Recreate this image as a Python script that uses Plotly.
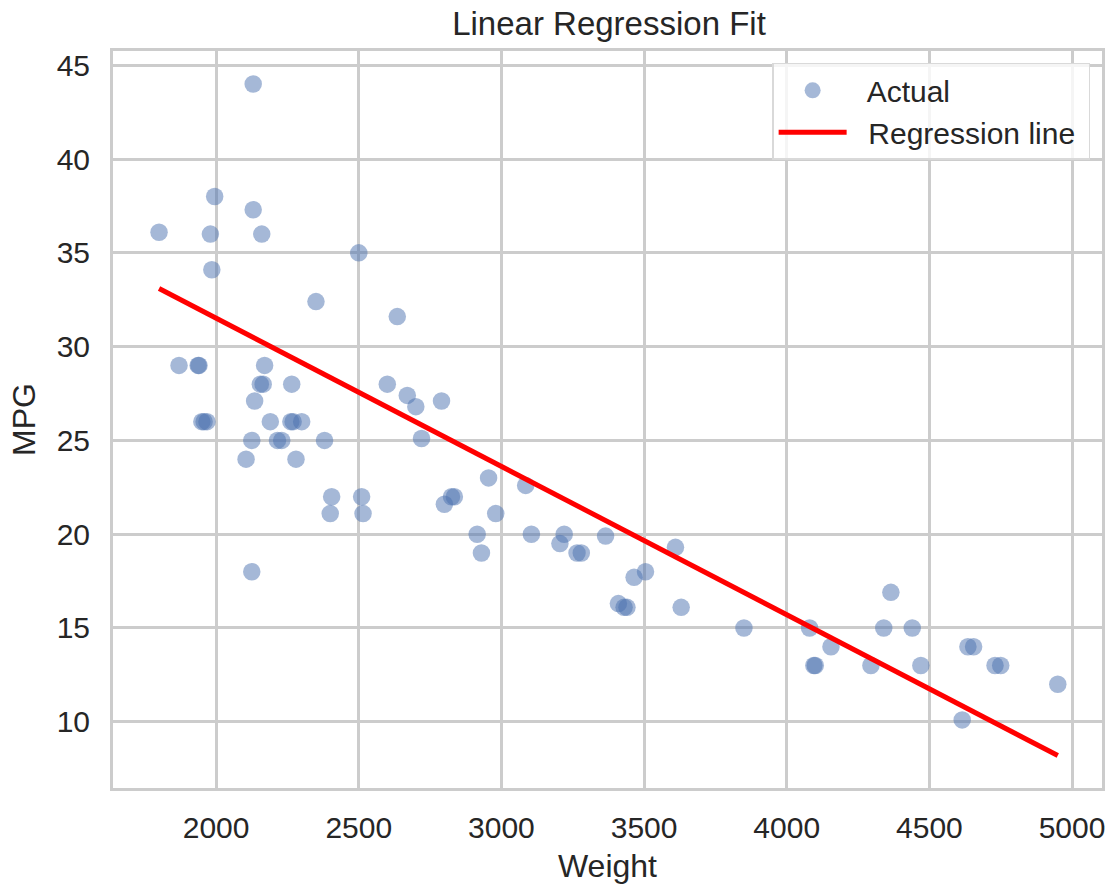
import plotly.graph_objects as go

# Data
weight = [2130, 1995, 2130, 1800, 1980, 2160, 2500, 1985, 2350, 2635,
          1870, 1937, 1940, 2170, 2155, 2165, 2265, 2135, 1950, 1958,
          1968, 2190, 2262, 2270, 2300, 2125, 2215, 2230, 2380, 2105,
          2280, 2405, 2510, 2400, 2515, 2825, 2835, 2800, 2600, 2670,
          2700, 2790, 2720, 2955, 2980, 2915, 2930, 2125, 3085, 3105,
          3220, 3205, 3265, 3280, 3365, 3610, 3505, 3465, 3410, 3430,
          3440, 3630, 3850, 4080, 4155, 4095, 4100, 4295, 4365, 4340,
          4440, 4470, 4635, 4655, 4730, 4750, 4950, 4615]
mpg = [44.0, 38.0, 37.3, 36.1, 36.0, 36.0, 35.0, 34.1, 32.4, 31.6,
       29.0, 29.0, 29.0, 29.0, 28.0, 28.0, 28.0, 27.1, 26.0, 26.0,
       26.0, 26.0, 26.0, 26.0, 26.0, 25.0, 25.0, 25.0, 25.0, 24.0,
       24.0, 22.0, 22.0, 21.1, 21.1, 22.0, 22.0, 21.6, 28.0, 27.4,
       26.8, 27.1, 25.1, 23.0, 21.1, 20.0, 19.0, 18.0, 22.6, 20.0,
       20.0, 19.5, 19.0, 19.0, 19.9, 19.3, 18.0, 17.7, 16.3, 16.1,
       16.1, 16.1, 15.0, 15.0, 14.0, 13.0, 13.0, 13.0, 16.9, 15.0,
       15.0, 13.0, 14.0, 14.0, 13.0, 13.0, 12.0, 10.1]

reg_x = [1800, 4950]
reg_y = [33.1, 8.2]

x_ticks = [2000, 2500, 3000, 3500, 4000, 4500, 5000]
y_ticks = [10, 15, 20, 25, 30, 35, 40, 45]

FONT = "Liberation Sans, Arial, sans-serif"
TEXT = "#262626"
GRID = "#cccccc"

fig = go.Figure()
fig.add_trace(go.Scatter(
    x=weight, y=mpg, mode="markers", name="  Actual",
    marker=dict(color="#4C72B0", size=17.5, opacity=0.5, line=dict(width=0)),
))
fig.add_trace(go.Scatter(
    x=reg_x, y=reg_y, mode="lines", name="  Regression line ",
    line=dict(color="#ff0000", width=5),
))

def axis_common(ticklen):
    return dict(
        showgrid=True, gridcolor=GRID, gridwidth=2.5,
        showline=True, linecolor=GRID, linewidth=3, mirror=True,
        zeroline=False,
        ticks="outside", ticklen=ticklen, tickcolor="rgba(0,0,0,0)",
        tickfont=dict(family=FONT, size=30, color=TEXT),
    )

fig.update_layout(
    width=1114, height=888,
    margin=dict(l=113, r=9, t=51, b=100),
    paper_bgcolor="white", plot_bgcolor="white",
    font=dict(family=FONT, color=TEXT),
    title=dict(text="Linear Regression Fit", x=(113 + 1105) / 2 / 1114,
               xanchor="center", y=1 - 23 / 888, yanchor="middle",
               yref="container", font=dict(family=FONT, size=33, color=TEXT)),
    xaxis=dict(range=[1638.6, 5105], tickvals=x_ticks,
               title=dict(text="Weight", font=dict(family=FONT, size=32, color=TEXT), standoff=12),
               **axis_common(11)),
    yaxis=dict(range=[6.47, 45.76], tickvals=y_ticks,
               title=dict(text="MPG", font=dict(family=FONT, size=32, color=TEXT), standoff=12),
               **axis_common(14)),
    legend=dict(x=0.988, xanchor="right", y=0.984, yanchor="top",
                bgcolor="rgba(255,255,255,0.8)", bordercolor="#d9d9d9", borderwidth=1.5,
                font=dict(family=FONT, size=30, color=TEXT),
                itemwidth=68, tracegroupgap=4),
    showlegend=True,
)

fig.write_html("out.html")
